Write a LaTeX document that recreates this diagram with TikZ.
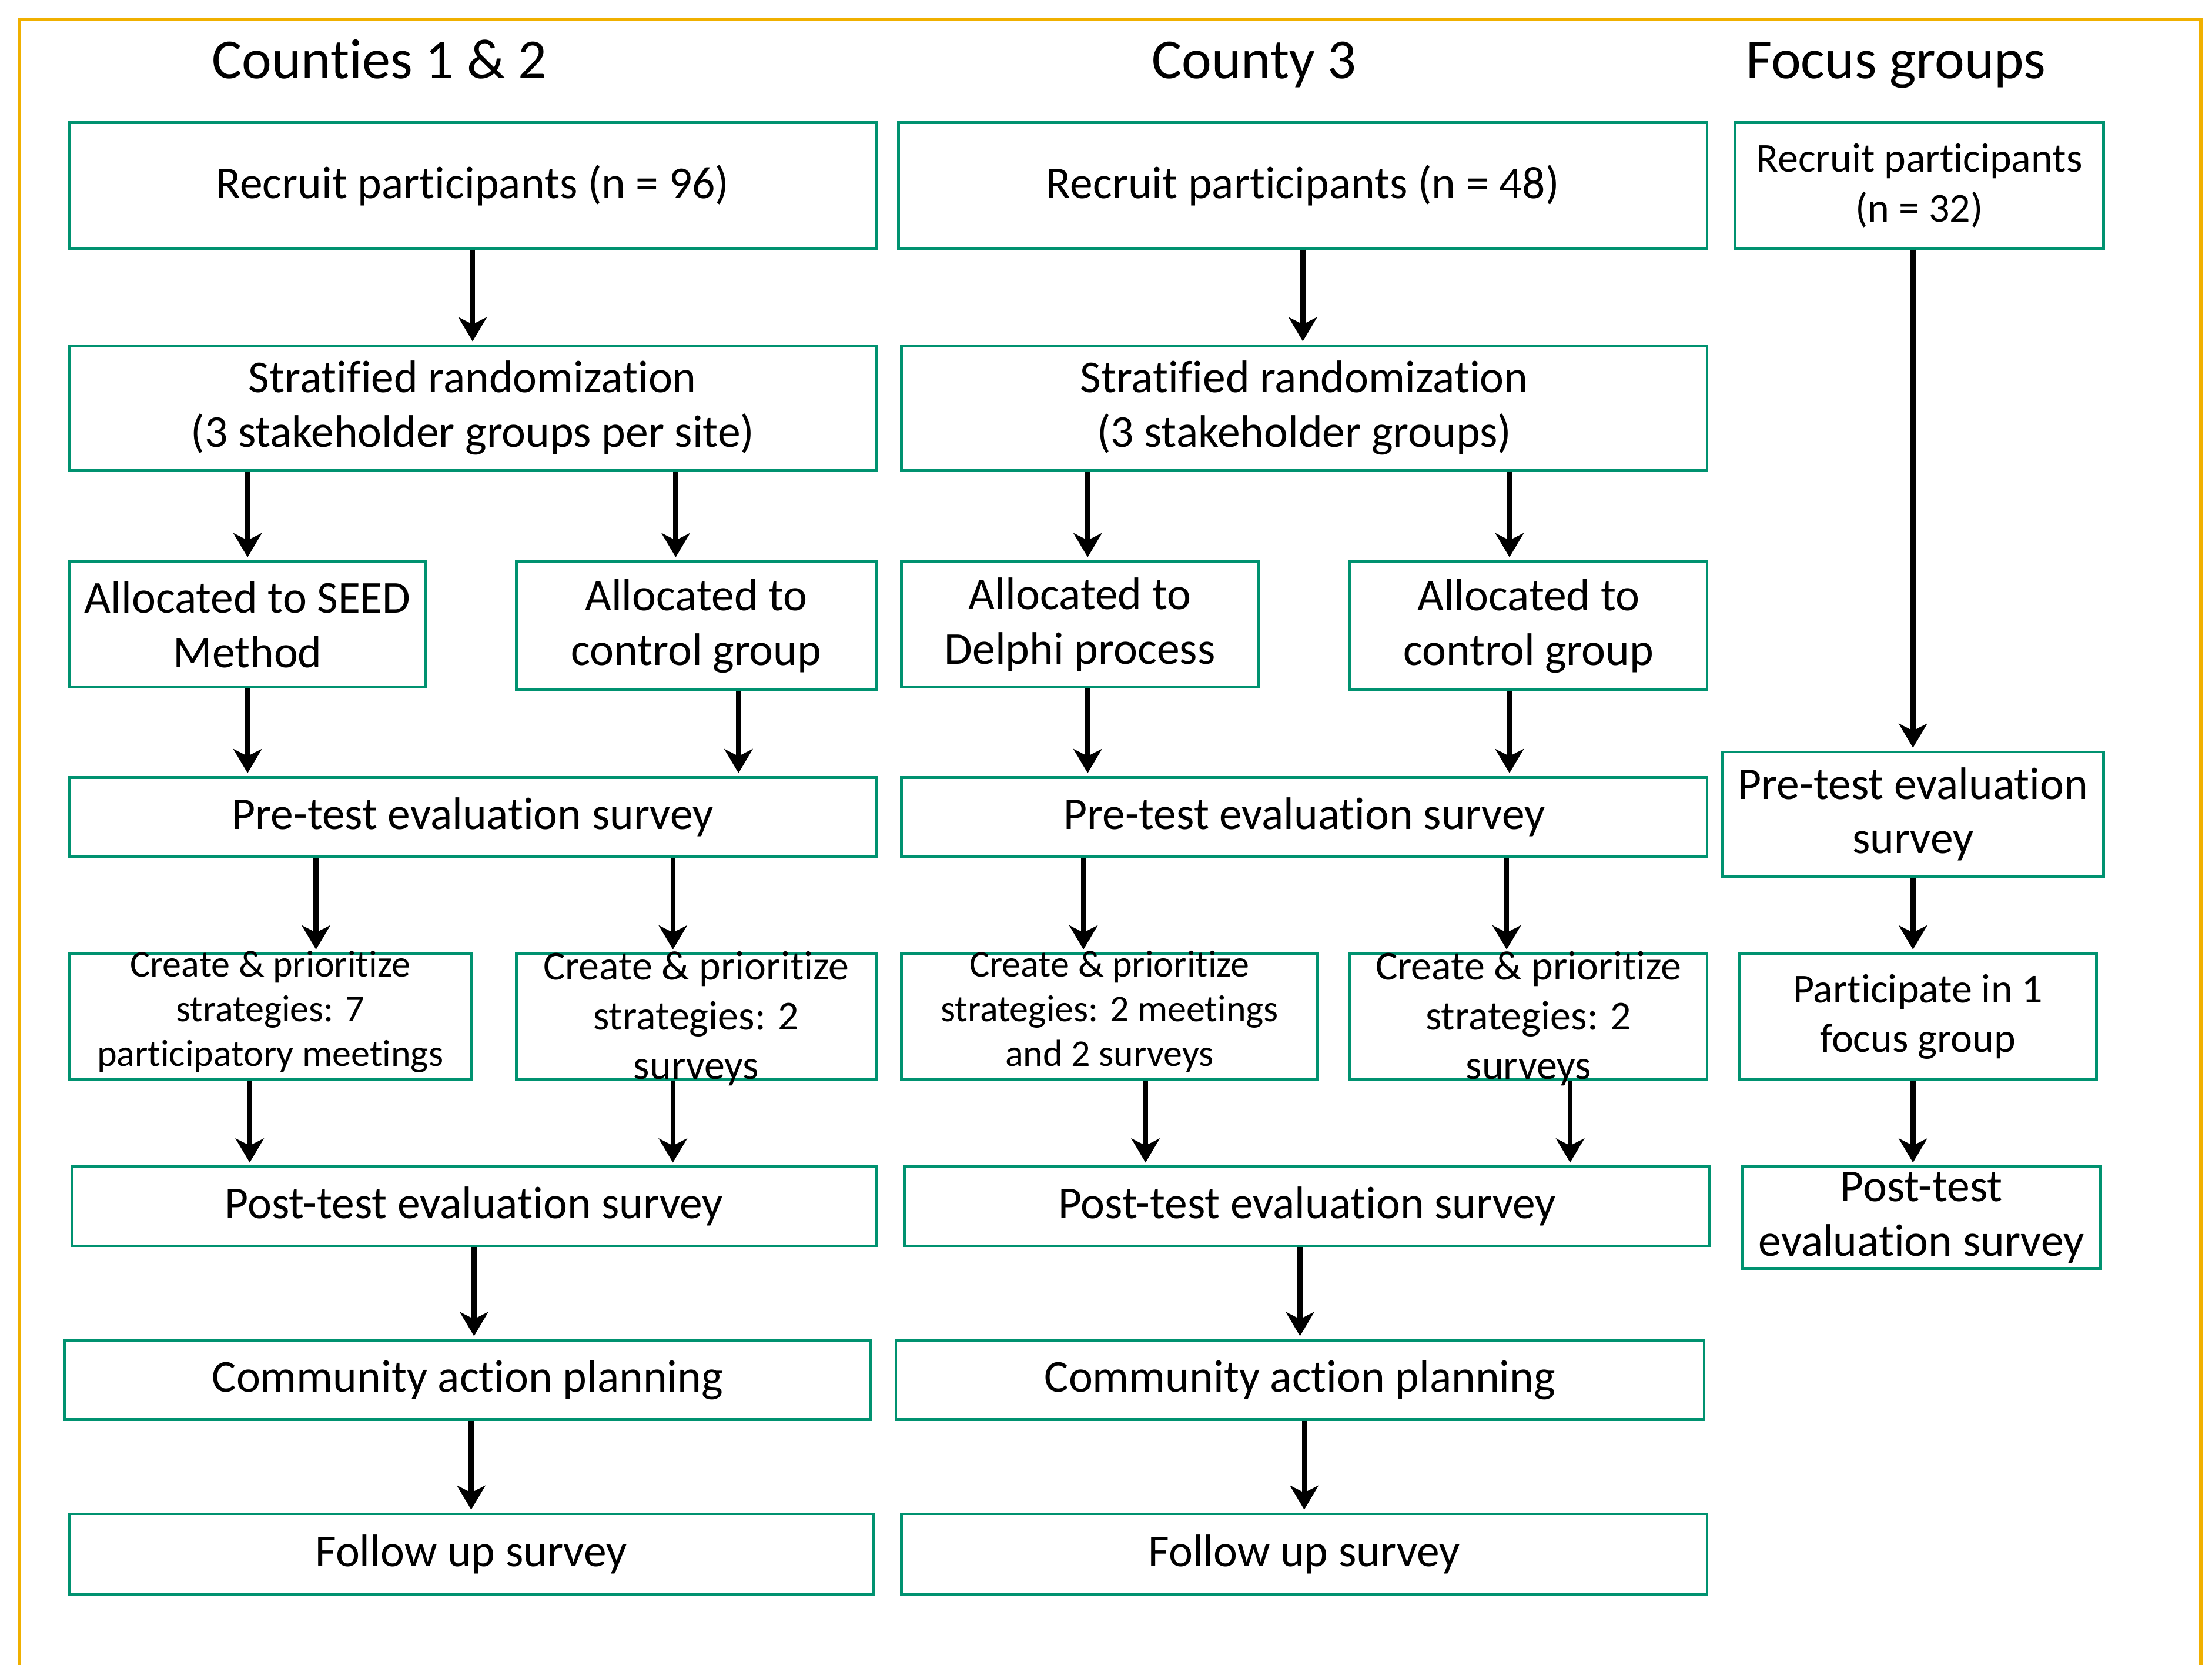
\documentclass[tikz,border=0pt]{standalone}
\usepackage{fontspec}
\setmainfont{Carlito}[Ligatures=NoCommon]
\usetikzlibrary{arrows.meta}
\definecolor{boxgreen}{RGB}{0,146,112}
\definecolor{frameorange}{RGB}{240,176,0}
% text block that may run over the box edge without growing the box
\newcommand{\fixtxt}[2]{\parbox[c][0pt][c]{#1}{\centering #2}}

\begin{document}
\begin{tikzpicture}[
    stage/.style={rectangle, draw=boxgreen, line width=0.55pt, inner sep=0pt, align=center, font=\fontsize{9.2}{11}\selectfont},
    small/.style={font=\fontsize{7.6}{9}\selectfont},
    mid/.style={font=\fontsize{8.3}{10}\selectfont},
    head/.style={font=\fontsize{11.4}{13}\selectfont, anchor=base, inner sep=0pt},
    arr/.style={-{Stealth[length=1.7mm,width=2mm,inset=0.5mm]}, line width=1pt, shorten >=0.6pt}
  ]
        \useasboundingbox (0,0) rectangle (15.68,-11.80);
        \draw[frameorange, line width=0.65pt] (0.14,-11.80) -- (0.14,-0.14) -- (15.60,-0.14) -- (15.60,-11.80);

        % column headings
        \node[head] at (2.69,-0.555) (H1) {Counties 1 \& 2};
        \node[head] at (8.89,-0.555) (H2) {County 3};
        \node[head] at (13.44,-0.555) (H3) {Focus groups};

        % Counties 1 & 2
        \node[stage, minimum width=5.72cm, minimum height=0.89cm] at (3.35,-1.315) (R1) {Recruit participants (n = 96)};
        \node[stage, minimum width=5.72cm, minimum height=0.88cm] at (3.35,-2.89) (S1) {Stratified randomization\\(3 stakeholder groups per site)};
        \node[stage, minimum width=2.53cm, minimum height=0.89cm] at (1.755,-4.425) (A1a) {Allocated to SEED\\Method};
        \node[stage, minimum width=2.55cm, minimum height=0.91cm] at (4.935,-4.435) (A1b) {Allocated to\\control group};
        \node[stage, minimum width=5.72cm, minimum height=0.56cm] at (3.35,-5.79) (P1) {Pre-test evaluation survey};
        \node[stage, small, minimum width=2.85cm, minimum height=0.89cm] at (1.915,-7.205) (C1a) {\fixtxt{2.8cm}{Create \& prioritize\\strategies: 7\\participatory meetings}};
        \node[stage, mid, minimum width=2.55cm, minimum height=0.89cm] at (4.935,-7.205) (C1b) {\fixtxt{2.5cm}{\vspace{1mm}Create \& prioritize\\strategies: 2\\surveys}};
        \node[stage, minimum width=5.70cm, minimum height=0.56cm] at (3.36,-8.55) (Q1) {Post-test evaluation survey};
        \node[stage, minimum width=5.71cm, minimum height=0.56cm] at (3.315,-9.78) (M1) {Community action planning};
        \node[stage, minimum width=5.70cm, minimum height=0.57cm] at (3.34,-11.015) (F1) {Follow up survey};

        % County 3
        \node[stage, minimum width=5.73cm, minimum height=0.89cm] at (9.235,-1.315) (R2) {Recruit participants (n = 48)};
        \node[stage, minimum width=5.71cm, minimum height=0.88cm] at (9.245,-2.89) (S2) {Stratified randomization\\(3 stakeholder groups)};
        \node[stage, minimum width=2.53cm, minimum height=0.89cm] at (7.655,-4.425) (A2a) {Allocated to\\Delphi process};
        \node[stage, minimum width=2.53cm, minimum height=0.91cm] at (10.835,-4.435) (A2b) {Allocated to\\control group};
        \node[stage, minimum width=5.71cm, minimum height=0.56cm] at (9.245,-5.79) (P2) {Pre-test evaluation survey};
        \node[stage, small, minimum width=2.95cm, minimum height=0.89cm] at (7.865,-7.205) (C2a) {\fixtxt{2.9cm}{Create \& prioritize\\strategies: 2 meetings\\and 2 surveys}};
        \node[stage, mid, minimum width=2.53cm, minimum height=0.89cm] at (10.835,-7.205) (C2b) {\fixtxt{2.5cm}{\vspace{1mm}Create \& prioritize\\strategies: 2\\surveys}};
        \node[stage, minimum width=5.71cm, minimum height=0.56cm] at (9.265,-8.55) (Q2) {Post-test evaluation survey};
        \node[stage, minimum width=5.73cm, minimum height=0.56cm] at (9.215,-9.78) (M2) {Community action planning};
        \node[stage, minimum width=5.71cm, minimum height=0.57cm] at (9.245,-11.015) (F2) {Follow up survey};

        % Focus groups
        \node[stage, mid, minimum width=2.61cm, minimum height=0.89cm] at (13.605,-1.315) (R3) {Recruit participants\\(n = 32)};
        \node[stage, minimum width=2.70cm, minimum height=0.88cm] at (13.56,-5.77) (P3) {Pre-test evaluation\\survey};
        \node[stage, mid, minimum width=2.53cm, minimum height=0.89cm] at (13.595,-7.205) (G3) {Participate in 1\\focus group};
        \node[stage, minimum width=2.54cm, minimum height=0.72cm] at (13.62,-8.63) (Q3) {Post-test\\evaluation survey};

        \draw [arr] (R1.south) -- (R1.south |- S1.north);
        \draw [arr] (S1.south -| A1a) -- (A1a.north);
        \draw [arr] ([xshift=-1.45mm]A1b.north |- S1.south) -- ([xshift=-1.45mm]A1b.north);
        \draw [arr] (A1a.south) -- (A1a.south |- P1.north);
        \draw [arr] ([xshift=3mm]A1b.south) -- ([xshift=3mm]A1b.south |- P1.north);
        \draw [arr] ([xshift=3.25mm]C1a.north |- P1.south) -- ([xshift=3.25mm]C1a.north);
        \draw [arr] ([xshift=-1.65mm]C1b.north |- P1.south) -- ([xshift=-1.65mm]C1b.north);
        \draw [arr] ([xshift=-1.45mm]C1a.south) -- ([xshift=-1.45mm]C1a.south |- Q1.north);
        \draw [arr] ([xshift=-1.65mm]C1b.south) -- ([xshift=-1.65mm]C1b.south |- Q1.north);
        \draw [arr] (Q1.south) -- (Q1.south |- M1.north);
        \draw [arr] (M1.south -| F1) -- (F1.north);

        \draw [arr] (R2.south) -- (R2.south |- S2.north);
        \draw [arr] ([xshift=0.55mm]A2a.north |- S2.south) -- ([xshift=0.55mm]A2a.north);
        \draw [arr] ([xshift=-1.35mm]A2b.north |- S2.south) -- ([xshift=-1.35mm]A2b.north);
        \draw [arr] ([xshift=0.55mm]A2a.south) -- ([xshift=0.55mm]A2a.south |- P2.north);
        \draw [arr] ([xshift=-1.35mm]A2b.south) -- ([xshift=-1.35mm]A2b.south |- P2.north);
        \draw [arr] ([xshift=-1.85mm]C2a.north |- P2.south) -- ([xshift=-1.85mm]C2a.north);
        \draw [arr] ([xshift=-1.55mm]C2b.north |- P2.south) -- ([xshift=-1.55mm]C2b.north);
        \draw [arr] ([xshift=2.55mm]C2a.south) -- ([xshift=2.55mm]C2a.south |- Q2.north);
        \draw [arr] ([xshift=2.95mm]C2b.south) -- ([xshift=2.95mm]C2b.south |- Q2.north);
        \draw [arr] (Q2.south -| M2) -- (M2.north);
        \draw [arr] (M2.south -| F2) -- (F2.north);

        \draw [arr] (R3.south -| P3) -- (P3.north);
        \draw [arr] (P3.south) -- (P3.south |- G3.north);
        \draw [arr] (P3 |- G3.south) -- (P3 |- Q3.north);

\end{tikzpicture}
\end{document}
